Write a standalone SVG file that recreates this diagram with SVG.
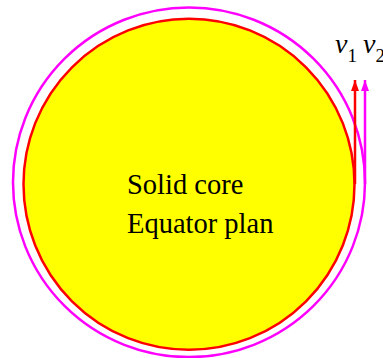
<svg xmlns="http://www.w3.org/2000/svg" width="383" height="358" viewBox="0 0 383 358">
<style>
text{font-family:"Liberation Serif",serif;fill:#000}
.v{font-style:italic;font-size:28px}
.sub{font-size:19px}
.main{font-size:28.5px}
</style>
<defs>
<marker id="ah-red" viewBox="0 0 11 8" refX="11" refY="4" markerWidth="11" markerHeight="8" markerUnits="userSpaceOnUse" orient="auto">
<path d="M0,0 L11,4 L0,8 Z" fill="#ff0000"/>
</marker>
<marker id="ah-mag" viewBox="0 0 11 8" refX="11" refY="4" markerWidth="11" markerHeight="8" markerUnits="userSpaceOnUse" orient="auto">
<path d="M0,0 L11,4 L0,8 Z" fill="#ff00ff"/>
</marker>
</defs>
<rect width="383" height="358" fill="#ffffff"/>
<g id="orbit">
<ellipse cx="189" cy="182.3" rx="176" ry="174.8" fill="none" stroke="#ff00ff" stroke-width="2.5"/>
</g>
<g id="core">
<circle cx="189" cy="184.3" r="165.5" fill="#ffff00" stroke="#ff0000" stroke-width="2.5"/>
<text class="main" x="127" y="194" font-family="Liberation Serif, serif">Solid core</text>
<text class="main" x="127" y="233" font-family="Liberation Serif, serif">Equator plan</text>
</g>
<g id="connectors">
<line x1="355" y1="184" x2="355" y2="80" stroke="#ff0000" stroke-width="2.5" marker-end="url(#ah-red)"/>
<line x1="365" y1="184" x2="365" y2="80" stroke="#ff00ff" stroke-width="2.5" marker-end="url(#ah-mag)"/>
</g>
<g id="labels">
<text x="335" y="53"><tspan class="v">v</tspan><tspan class="sub" dy="9">1</tspan></text>
<text x="363" y="53"><tspan class="v">v</tspan><tspan class="sub" dy="9">2</tspan></text>
</g>
</svg>
